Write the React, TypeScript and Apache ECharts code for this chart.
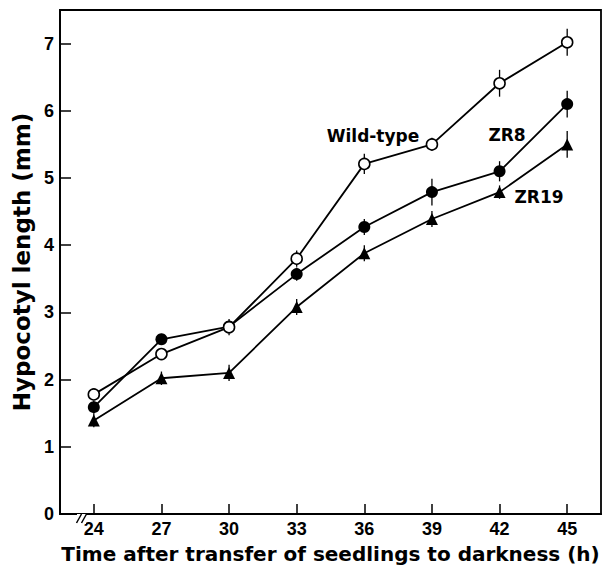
import React, { useEffect, useRef } from "react";
import * as echarts from "echarts";

const hours = [24, 27, 30, 33, 36, 39, 42, 45];
const wildType = [1.78, 2.38, 2.78, 3.8, 5.21, 5.5, 6.41, 7.02];
const zr8 = [1.59, 2.6, 2.79, 3.57, 4.27, 4.79, 5.1, 6.1];
const zr19 = [1.39, 2.02, 2.1, 3.08, 3.88, 4.39, 4.79, 5.5];
const wildTypeErr = [0.08, 0.08, 0.12, 0.12, 0.15, 0.1, 0.2, 0.2];
const zr8Err = [0.1, 0.08, 0.08, 0.1, 0.12, 0.2, 0.15, 0.2];
const zr19Err = [0.1, 0.1, 0.12, 0.12, 0.12, 0.12, 0.1, 0.2];
const xTicks = [24, 27, 30, 33, 36, 39, 42, 45];
const yTicks = [1, 2, 3, 4, 5, 6, 7];
const yLabels = [0, 1, 2, 3, 4, 5, 6, 7];

const TITLE_FONT = "'DejaVu Sans', sans-serif";
const TICK_FONT = "'Liberation Sans', Arial, sans-serif";

function pairs(vals: number[]) {
  return hours.map((h, i) => [h, vals[i]]);
}
function errTriples(vals: number[], errs: number[]) {
  return hours.map((h, i) => [h, vals[i], errs[i]]);
}

const errorRender = (params: any, api: any) => {
  const x = api.value(0);
  const y = api.value(1);
  const e = api.value(2);
  const p1 = api.coord([x, y + e]);
  const p2 = api.coord([x, y - e]);
  return {
    type: "line",
    shape: { x1: p1[0], y1: p1[1], x2: p2[0], y2: p2[1] },
    style: { stroke: "#000", lineWidth: 1.3 },
  };
};

export default function App() {
  const ref = useRef<HTMLDivElement>(null);
  useEffect(() => {
    if (!ref.current) return;
    const chart = echarts.init(ref.current, undefined, { renderer: "svg" });
    const lineStyle = { color: "#000", width: 1.8 };
    chart.setOption({
      animation: false,
      backgroundColor: "#fff",
      grid: {
        left: 60,
        top: 10,
        right: 4,
        bottom: 50,
        show: true,
        borderColor: "#000",
        borderWidth: 1.8,
        backgroundColor: "transparent",
      },
      xAxis: {
        type: "value",
        min: 22.5,
        max: 46.5,
        name: "Time after transfer of seedlings to darkness (h)",
        nameLocation: "middle",
        nameGap: 30,
        nameTextStyle: {
          fontFamily: TITLE_FONT,
          fontWeight: "bold",
          fontSize: 20,
          color: "#000",
        },
        axisLine: { show: true, lineStyle: { color: "#000", width: 1.8 } },
        axisTick: {
          show: true,
          inside: true,
          length: 10,
          customValues: xTicks,
          lineStyle: { color: "#000", width: 1.5 },
        },
        axisLabel: {
          customValues: xTicks,
          fontFamily: TICK_FONT,
          fontWeight: "bold",
          fontSize: 18,
          color: "#000",
          margin: 6,
        },
        splitLine: { show: false },
      },
      yAxis: {
        type: "value",
        min: 0,
        max: 7.5,
        name: "Hypocotyl length (mm)",
        nameLocation: "middle",
        nameGap: 22,
        nameTextStyle: {
          fontFamily: TITLE_FONT,
          fontWeight: "bold",
          fontSize: 23,
          color: "#000",
        },
        axisLine: { show: true, lineStyle: { color: "#000", width: 1.8 } },
        axisTick: {
          show: true,
          inside: true,
          length: 11,
          customValues: yTicks,
          lineStyle: { color: "#000", width: 1.5 },
        },
        axisLabel: {
          customValues: yLabels,
          fontFamily: TICK_FONT,
          fontWeight: "bold",
          fontSize: 18,
          color: "#000",
          margin: 6,
        },
        splitLine: { show: false },
      },
      graphic: [
        {
          type: "rect",
          shape: { x: 77, y: 514, width: 9, height: 10 },
          style: { fill: "#fff" },
          z: 100,
        },
        {
          type: "line",
          shape: { x1: 76.5, y1: 523, x2: 81.5, y2: 514 },
          style: { stroke: "#000", lineWidth: 1.5 },
          z: 101,
        },
        {
          type: "line",
          shape: { x1: 81.5, y1: 523, x2: 86.5, y2: 514 },
          style: { stroke: "#000", lineWidth: 1.5 },
          z: 101,
        },
        {
          type: "text",
          x: 373,
          y: 136,
          style: {
            text: "Wild-type",
            fontFamily: TITLE_FONT,
            fontWeight: "bold",
            fontSize: 17,
            fill: "#000",
            align: "center",
            verticalAlign: "middle",
          },
          z: 100,
        },
        {
          type: "text",
          x: 507,
          y: 135,
          style: {
            text: "ZR8",
            fontFamily: TITLE_FONT,
            fontWeight: "bold",
            fontSize: 17,
            fill: "#000",
            align: "center",
            verticalAlign: "middle",
          },
          z: 100,
        },
        {
          type: "text",
          x: 539,
          y: 197,
          style: {
            text: "ZR19",
            fontFamily: TITLE_FONT,
            fontWeight: "bold",
            fontSize: 17,
            fill: "#000",
            align: "center",
            verticalAlign: "middle",
          },
          z: 100,
        },
      ],
      series: [
        {
          type: "custom",
          name: "Wild-type error",
          renderItem: errorRender,
          data: errTriples(wildType, wildTypeErr),
          encode: { x: 0, y: 1 },
          z: 1,
        },
        {
          type: "custom",
          name: "ZR8 error",
          renderItem: errorRender,
          data: errTriples(zr8, zr8Err),
          encode: { x: 0, y: 1 },
          z: 1,
        },
        {
          type: "custom",
          name: "ZR19 error",
          renderItem: errorRender,
          data: errTriples(zr19, zr19Err),
          encode: { x: 0, y: 1 },
          z: 1,
        },
        {
          type: "line",
          name: "ZR19",
          data: pairs(zr19),
          symbol: "triangle",
          symbolSize: 12,
          lineStyle,
          itemStyle: { color: "#000", borderColor: "#000", borderWidth: 0 },
          z: 3,
        },
        {
          type: "line",
          name: "ZR8",
          data: pairs(zr8),
          symbol: "circle",
          symbolSize: 12,
          lineStyle,
          itemStyle: { color: "#000", borderColor: "#000", borderWidth: 0 },
          z: 4,
        },
        {
          type: "line",
          name: "Wild-type",
          data: pairs(wildType),
          symbol: "circle",
          symbolSize: 11,
          showAllSymbol: true,
          lineStyle,
          itemStyle: { color: "#fff", borderColor: "#000", borderWidth: 1.6 },
          z: 5,
        },
      ],
    });
    return () => chart.dispose();
  }, []);
  return (
    <div
      ref={ref}
      style={{ position: "fixed", left: 0, top: 0, width: 605, height: 569 }}
    />
  );
}
